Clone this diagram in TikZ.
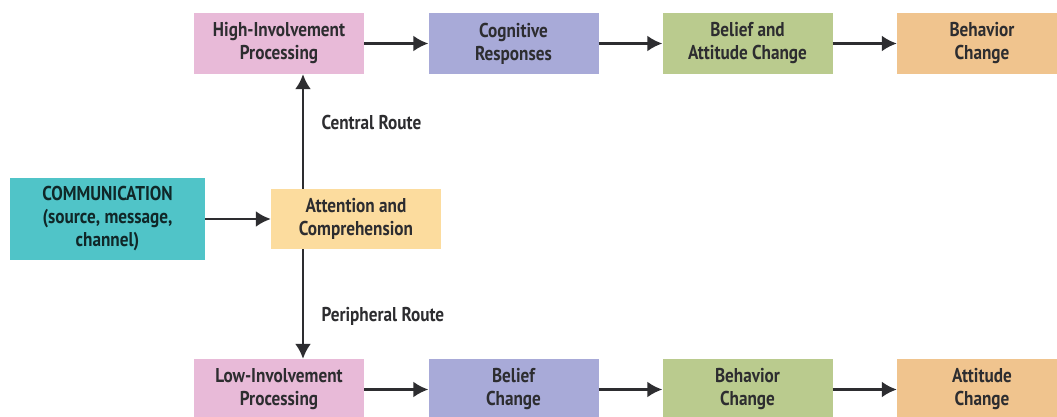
\documentclass[tikz,border=0pt]{standalone}
\usepackage{fontspec}
\setmainfont{PT Sans}[FakeStretch=0.86]
\usetikzlibrary{arrows.meta}

\definecolor{pinkbox}{RGB}{232,186,216}
\definecolor{purplebox}{RGB}{168,170,216}
\definecolor{greenbox}{RGB}{186,203,142}
\definecolor{orangebox}{RGB}{240,196,142}
\definecolor{tealbox}{RGB}{80,196,200}
\definecolor{yellowbox}{RGB}{252,220,158}
\definecolor{textgray}{RGB}{45,45,48}

\tikzset{
  box/.style={minimum width=170pt,minimum height=61pt,inner sep=0pt,align=center,
    font=\fontsize{20}{23}\selectfont\bfseries,text=textgray},
  flow/.style={line width=2.5pt,draw=textgray,-{Latex[length=15pt,width=16pt]}},
  route/.style={font=\fontsize{20}{23}\selectfont\bfseries,text=textgray,anchor=west}
}

\begin{document}
\begin{tikzpicture}[x=1pt,y=-1pt]

% Background
\clip (0,0) rectangle (1057,416);
\fill[white] (0,0) rectangle (1057,416);

% Source
\node[box,fill=tealbox,minimum width=195pt,minimum height=82pt,text=black!80!tealbox] (comm) at (107.5,219)
  {COMMUNICATION\\(source, message,\\channel)};
\node[box,fill=yellowbox,minimum height=60pt] (attn) at (356,219) {Attention and\\Comprehension};

% Central route
\node[box,fill=pinkbox] (high) at (279,43.5) {High-Involvement\\Processing};
\node[box,fill=purplebox] (cogn) at (513.5,43.5) {Cognitive\\Responses};
\node[box,fill=greenbox] (belatt) at (747.5,43.5) {Belief and\\Attitude Change};
\node[box,fill=orangebox] (behav) at (982,43.5) {Behavior\\Change};

% Peripheral route
\node[box,fill=pinkbox] (low) at (279,389.5) {Low-Involvement\\Processing};
\node[box,fill=purplebox] (belief) at (513.5,389.5) {Belief\\Change};
\node[box,fill=greenbox] (behav2) at (747.5,389.5) {Behavior\\Change};
\node[box,fill=orangebox] (attit) at (982,389.5) {Attitude\\Change};

% Arrows
\draw[flow] (comm) -- (attn);
\draw[flow] (attn.north -| 303,0) -- (high.south -| 303,0);
\draw[flow] (attn.south -| 303,0) -- (low.north -| 303,0);
\draw[flow] (high) -- (cogn);
\draw[flow] (cogn) -- (belatt);
\draw[flow] (belatt) -- (behav);
\draw[flow] (low) -- (belief);
\draw[flow] (belief) -- (behav2);
\draw[flow] (behav2) -- (attit);

% Route labels
\node[route] (central) at (318,122) {Central Route};
\node[route] (periph) at (318,316) {Peripheral Route};

\end{tikzpicture}
\end{document}
